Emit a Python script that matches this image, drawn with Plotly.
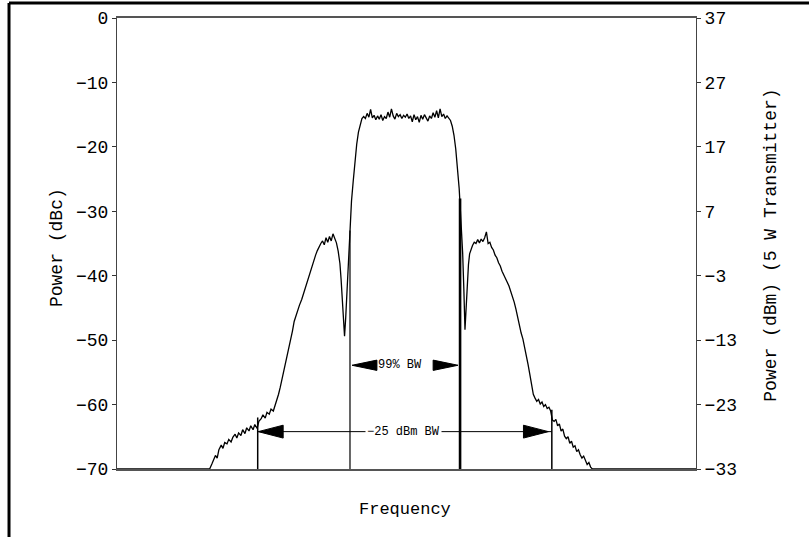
import plotly.graph_objects as go

# ---------------- data ----------------
freq = [
    -50.0, -42.0, -38.0, -34.0,
    -33.6, -33.3, -33.0, -32.7, -32.4, -32.0, -31.7, -31.4, -31.0, -30.7,
    -30.3, -30.0, -29.6, -29.3, -29.0, -28.6, -28.3, -27.9, -27.6, -27.2,
    -26.9, -26.5, -26.2, -25.8, -25.5, -25.1, -24.8, -24.4, -24.1, -23.7,
    -23.4, -23.0, -22.7, -22.4, -22.1, -21.8, -21.5, -21.2, -20.9, -20.6,
    -20.3, -20.0, -19.7, -19.4, -19.1, -18.8, -18.5, -18.1, -17.8, -17.5,
    -17.2, -16.9, -16.6, -16.3, -16.0, -15.7, -15.4, -15.1, -14.8, -14.5,
    -14.2, -13.9, -13.6, -13.3, -13.0, -12.7, -12.4, -12.1, -11.8, -11.5,
    -11.3, -11.1, -10.9, -10.7, -10.5, -10.3, -10.1, -9.9, -9.7, -9.5,
    -9.2, -8.9, -8.6, -8.3, -8.0, -7.7,
    -7.4, -7.1, -6.8, -6.5, -6.2, -5.9, -5.6, -5.3, -5.0, -4.7,
    -4.4, -4.1, -3.8, -3.5, -3.2, -2.9, -2.6, -2.3, -2.0, -1.7,
    -1.4, -1.1, -0.8, -0.5, -0.2, 0.1, 0.4, 0.7, 1.0, 1.3,
    1.6, 1.9, 2.2, 2.5, 2.8, 3.1, 3.4, 3.7, 4.0, 4.3,
    4.6, 4.9, 5.2, 5.5, 5.8, 6.1, 6.4, 6.7, 7.0, 7.3, 7.6,
    7.9, 8.2, 8.5, 8.8, 9.1, 9.3, 9.5, 9.7, 9.9, 10.1,
    10.3, 10.5, 10.7, 10.9, 11.1, 11.4, 11.7, 12.0, 12.3, 12.6,
    12.9, 13.2, 13.5, 13.8, 14.1, 14.4, 14.7, 15.0, 15.3, 15.6,
    15.9, 16.2, 16.5, 16.8, 17.1, 17.4, 17.7, 18.0, 18.3, 18.6,
    18.9, 19.2, 19.5, 19.8, 20.1, 20.4, 20.7, 21.0, 21.3, 21.6,
    21.9, 22.2, 22.5, 22.8, 23.1, 23.4, 23.7, 24.0, 24.3, 24.6,
    24.9, 25.2, 25.5, 25.8, 26.1, 26.4, 26.7, 27.0, 27.3, 27.6,
    27.9, 28.2, 28.5, 28.8, 29.1, 29.4, 29.7, 30.0, 30.3, 30.6,
    30.9, 31.2, 31.5, 31.8, 32.1, 38.0, 44.0, 50.0,
]
power_dbc = [
    -70.0, -70.0, -70.0, -70.0,
    -69.2, -68.4, -67.9, -68.3, -67.0, -66.3, -66.8, -65.9, -66.1, -65.4,
    -65.8, -65.1, -64.6, -65.2, -64.4, -64.8, -63.9, -64.5, -63.6, -64.1,
    -63.3, -63.9, -63.1, -63.7, -62.6, -62.2, -61.6, -62.1, -61.2, -61.5,
    -60.7, -61.0, -60.2, -59.3, -58.4, -57.3, -56.1, -55.0, -53.6, -52.2,
    -50.9, -49.8, -48.6, -47.1, -46.2, -45.3, -44.6, -43.7, -42.8, -42.0,
    -41.1, -40.3, -39.5, -38.6, -37.4, -36.8, -36.1, -35.4, -35.0, -34.6,
    -35.2, -34.1, -34.8, -33.9, -34.6, -33.5, -34.3, -34.9, -36.2, -38.1,
    -40.5, -43.2, -46.0, -49.4, -46.5, -42.8, -39.0, -34.6, -31.5, -28.4,
    -25.3, -22.0, -19.6, -17.7, -16.5, -15.6,
    -15.3, -15.6, -14.8, -15.4, -14.2, -15.5, -15.1, -15.8, -15.2, -15.7,
    -15.0, -15.9, -15.3, -15.6, -14.6, -15.4, -14.1, -15.2, -15.7, -14.8,
    -15.3, -15.0, -15.6, -15.1, -15.4, -14.9, -15.6, -15.2, -16.1, -15.0,
    -15.8, -15.3, -16.2, -15.1, -15.7, -15.0, -15.5, -16.0, -15.2, -15.6,
    -14.7, -15.4, -14.4, -15.5, -14.1, -15.3, -14.9, -15.6, -15.2, -15.5, -15.9,
    -16.8, -18.2, -20.3, -23.1, -26.5, -29.8, -32.4, -36.5, -42.0, -48.4,
    -45.0, -41.0, -38.3, -36.6, -35.9, -35.3, -34.8, -35.0, -34.4, -34.9,
    -34.3, -34.7, -34.1, -33.2, -35.0, -34.8, -35.6, -36.0, -36.8, -37.2,
    -38.0, -38.5, -39.3, -39.8, -40.4, -41.0, -41.6, -42.4, -43.2, -44.1,
    -45.2, -46.5, -47.8, -48.9, -49.8, -51.0, -52.3, -53.8, -55.3, -56.9,
    -58.4, -59.0, -59.5, -59.2, -59.9, -59.6, -60.3, -60.0, -60.6, -60.4,
    -61.0, -62.4, -62.6, -62.3, -63.3, -63.0, -64.1, -63.8, -64.9, -65.3,
    -65.0, -66.0, -65.7, -66.6, -66.4, -67.3, -67.0, -67.8, -68.3, -68.0,
    -68.8, -69.3, -69.0, -69.7, -70.0, -70.0, -70.0, -70.0,
]

dbc_ticks = [0, -10, -20, -30, -40, -50, -60, -70]
dbm_ticks = [37, 27, 17, 7, -3, -13, -23, -33]
dbm_offset = 37  # dBm = dBc + 37 (5 W transmitter)

# bandwidth markers (frequency edges, marker level in dBc, top of marker lines)
bw99_edges = [-9.76, 9.25]
bw99_level = -53.9
bw99_tops = [-33.0, -28.0]
bw25_edges = [-25.7, 25.1]
bw25_level = -64.2
bw25_tops = [-62.0, -60.8]

FONT = "Liberation Mono"
INK = "black"

fig = go.Figure()

# marker vertical lines
for f, top, w in [(bw99_edges[0], bw99_tops[0], 1.2), (bw99_edges[1], bw99_tops[1], 2.6),
                  (bw25_edges[0], bw25_tops[0], 1.5), (bw25_edges[1], bw25_tops[1], 1.5)]:
    fig.add_trace(go.Scatter(x=[f, f], y=[top, -70], mode="lines",
                             line=dict(color=INK, width=w), hoverinfo="skip", showlegend=False))

# -25 dBm horizontal line
fig.add_trace(go.Scatter(x=[bw25_edges[0], bw25_edges[1]], y=[bw25_level, bw25_level], mode="lines",
                         line=dict(color=INK, width=1), hoverinfo="skip", showlegend=False))

# spectrum
fig.add_trace(go.Scatter(x=freq, y=power_dbc, mode="lines",
                         line=dict(color=INK, width=1.3), hoverinfo="skip", showlegend=False))

# invisible trace to activate the right axis
fig.add_trace(go.Scatter(x=[freq[0]], y=[power_dbc[0] + dbm_offset], yaxis="y2", mode="lines",
                         line=dict(color="rgba(0,0,0,0)"), hoverinfo="skip", showlegend=False))

# arrow heads (triangles)
ARROW_LEN = 4.3
def tri(tip_x, level, direction, half_h):
    base = tip_x - direction * ARROW_LEN
    return f"M {tip_x} {level} L {base} {level + half_h} L {base} {level - half_h} Z"

shapes = []
tips = [(bw99_edges[0] + 0.35, bw99_level, -1, 0.8),
        (bw99_edges[1] - 0.35, bw99_level, 1, 0.8),
        (bw25_edges[0] + 0.1, bw25_level, -1, 1.0),
        (bw25_edges[1] - 0.6, bw25_level, 1, 1.0)]
for tx, lv, d, hh in tips:
    shapes.append(dict(type="path", xref="x", yref="y", path=tri(tx, lv, d, hh),
                       fillcolor=INK, line=dict(color=INK, width=1)))

# outer frame of the scanned figure (left and top edges)
shapes.append(dict(type="line", xref="paper", yref="paper", x0=-0.1865, x1=1.21, y0=1.0333, y1=1.0333,
                   line=dict(color=INK, width=3)))
shapes.append(dict(type="line", xref="paper", yref="paper", x0=-0.1865, x1=-0.1865, y0=1.0333, y1=-0.2,
                   line=dict(color=INK, width=3)))

annotations = [
    dict(x=-1.1, y=bw99_level, xref="x", yref="y", text="99% BW", showarrow=False,
         font=dict(family=FONT, size=12, color=INK)),
    dict(x=-0.6, y=bw25_level, xref="x", yref="y", text="−25 dBm BW", showarrow=False,
         bgcolor="white", borderpad=1, font=dict(family=FONT, size=12, color=INK)),
    dict(x=-0.1244, y=0.492, xref="paper", yref="paper", text="Power (dBc)", showarrow=False,
         textangle=-90, font=dict(family=FONT, size=18, color=INK)),
    dict(x=1.150, y=0.497, xref="paper", yref="paper", text="Power (dBm) (5 W Transmitter)",
         showarrow=False, textangle=-90, font=dict(family=FONT, size=18, color=INK)),
    dict(x=0.497, y=-0.115, xref="paper", yref="paper", text="Frequency", showarrow=False,
         font=dict(family=FONT, size=17, color=INK)),
]

fig.update_layout(
    width=809, height=537,
    margin=dict(l=117, r=113, t=18, b=68),
    paper_bgcolor="white", plot_bgcolor="white",
    showlegend=False,
    shapes=shapes,
    annotations=annotations,
    xaxis=dict(range=[-50, 50], showgrid=False, zeroline=False, showticklabels=False,
               ticks="", showline=True, linecolor="#555", linewidth=1.5, mirror=True),
    yaxis=dict(range=[-70, 0], tickvals=dbc_ticks, showgrid=False, zeroline=False,
               ticks="outside", ticklen=4, tickcolor="#333", showline=True, linecolor="#444",
               linewidth=1, automargin=False,
               tickfont=dict(family=FONT, size=18, color=INK)),
    yaxis2=dict(range=[-70 + dbm_offset, 0 + dbm_offset], tickvals=dbm_ticks, overlaying="y",
                side="right", showgrid=False, zeroline=False, ticks="outside", ticklen=4,
                tickcolor="#333", showline=True, linecolor="#444", linewidth=1, automargin=False,
                tickfont=dict(family=FONT, size=18, color=INK)),
)

# remove the default page margin so the figure fills the window exactly
fig.write_html("out.html",
               config={"displayModeBar": False},
               post_script="document.body.style.margin='0';document.body.style.overflow='hidden';")
